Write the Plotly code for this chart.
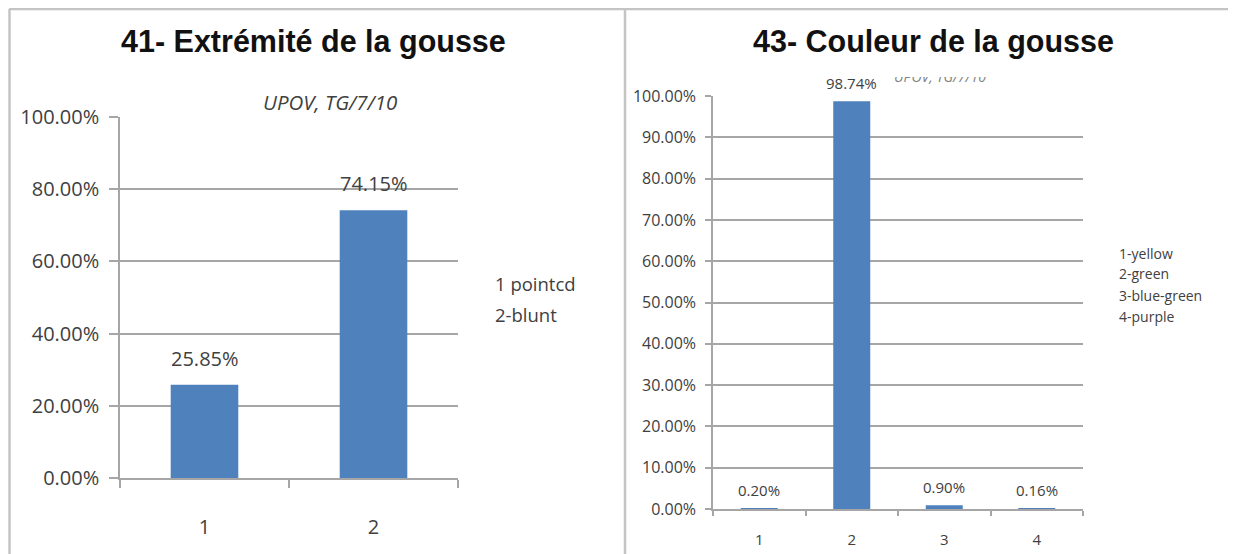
import plotly.graph_objects as go

W, H = 1236, 554

# ---- data ----
left_title = "41- Extrémité de la gousse"
left_categories = ["1", "2"]
left_values = [0.2585, 0.7415]
left_legend = ["1 pointcd", "2-blunt"]

right_title = "43- Couleur de la gousse"
right_categories = ["1", "2", "3", "4"]
right_values = [0.0020, 0.9874, 0.0090, 0.0016]
right_legend = ["1-yellow", "2-green", "3-blue-green", "4-purple"]

source_text = "UPOV, TG/7/10"

BAR = "#4F81BD"
GRID = "#a6a6a6"
TXT = "#404040"
FONT = "Open Sans"
OFF = 8  # page body margin


def fx(p):
    return (p - OFF) / W


def fy(p):
    return 1 - (p - OFF) / H


fig = go.Figure()
fig.add_trace(go.Bar(x=left_categories, y=left_values, marker_color=BAR,
                     xaxis="x", yaxis="y", showlegend=False, hoverinfo="skip"))
fig.add_trace(go.Bar(x=right_categories, y=right_values, marker_color=BAR,
                     xaxis="x2", yaxis="y2", showlegend=False, hoverinfo="skip"))
# partially hidden source text in the right panel (clipped by its own area)
fig.add_trace(go.Scatter(x=[0], y=[0.85], mode="text", text=[source_text],
                         textfont=dict(family=FONT, size=14, color="#7f7f7f", style="italic"),
                         textposition="middle center", cliponaxis=True,
                         xaxis="x3", yaxis="y3", showlegend=False, hoverinfo="skip"))

common_y = dict(range=[0, 1], tickformat=".2%", showgrid=True, gridcolor=GRID, gridwidth=1.5,
                zeroline=False, showline=True, linecolor=GRID, linewidth=1.5,
                ticks="outside", tickcolor=GRID, tickwidth=1.5, automargin=False)
common_x = dict(type="category", showgrid=False, zeroline=False, showline=True,
                linecolor=GRID, linewidth=1.5, ticks="outside", tickson="boundaries",
                tickcolor=GRID, tickwidth=1.5, automargin=False)

fig.update_layout(
    template="none",
    width=W, height=H, margin=dict(l=0, r=0, t=0, b=0, pad=0),
    paper_bgcolor="white", plot_bgcolor="white",
    bargap=0.6,
    xaxis=dict(domain=[fx(120), fx(458)], anchor="y", ticklen=8, ticklabelstandoff=30,
               tickfont=dict(family=FONT, size=20, color=TXT), **common_x),
    yaxis=dict(domain=[fy(478), fy(117)], anchor="x", dtick=0.2, ticklen=9,
               ticklabelstandoff=6,
               tickfont=dict(family=FONT, size=20, color=TXT), **common_y),
    xaxis2=dict(domain=[fx(713), fx(1083)], anchor="y2", ticklen=5, ticklabelstandoff=16,
                tickfont=dict(family=FONT, size=15, color=TXT), **common_x),
    yaxis2=dict(domain=[fy(509), fy(96)], anchor="x2", dtick=0.1, ticklen=6,
                ticklabelstandoff=6,
                tickfont=dict(family=FONT, size=16, color=TXT), **common_y),
    xaxis3=dict(domain=[fx(860), fx(1020)], anchor="y3", range=[-1, 1], visible=False),
    yaxis3=dict(domain=[fy(95), fy(77)], anchor="x3", range=[-1, 1], visible=False),
)

annotations = []


def paper_text(text, x, y, size, family=FONT, color=TXT, xanchor="center"):
    return dict(text=text, x=fx(x), y=fy(y), xref="paper", yref="paper",
                xanchor=xanchor, yanchor="middle", showarrow=False,
                font=dict(family=family, size=size, color=color))


# titles
annotations.append(paper_text(f"<b>{left_title}</b>", 313, 42, 30.5, "Liberation Sans", "#111111"))
annotations.append(paper_text(f"<b>{right_title}</b>", 933, 42, 30.5, "Liberation Sans", "#111111"))
# source text left
annotations.append(paper_text(f"<i>{source_text}</i>", 330, 102, 20.5))
# legends as text
for i, t in enumerate(left_legend):
    annotations.append(paper_text(t, 493, 283 + 31 * i, 18.5, xanchor="left"))
for i, t in enumerate(right_legend):
    annotations.append(paper_text(t, 1117, 253 + 21 * i, 14, xanchor="left"))
# data labels (category index positions)
for i, v in enumerate(left_values):
    annotations.append(dict(text=f"{v * 100:.2f}%", x=i, y=v, xref="x", yref="y",
                            xanchor="center", yanchor="bottom", yshift=11, showarrow=False,
                            font=dict(family=FONT, size=20, color=TXT)))
for i, v in enumerate(right_values):
    annotations.append(dict(text=f"{v * 100:.2f}%", x=i, y=v, xref="x2", yref="y2",
                            xanchor="center", yanchor="bottom", yshift=6, showarrow=False,
                            font=dict(family=FONT, size=15, color=TXT)))
fig.update_layout(annotations=annotations)

# panel frames
line = dict(color="#c4c4c4", width=2.5)
fig.add_shape(type="line", xref="paper", yref="paper", x0=fx(9), x1=1, y0=fy(9), y1=fy(9), line=line)
fig.add_shape(type="line", xref="paper", yref="paper", x0=fx(9.5), x1=fx(9.5), y0=fy(9), y1=0, line=line)
fig.add_shape(type="line", xref="paper", yref="paper", x0=fx(625), x1=fx(625), y0=fy(9), y1=0, line=line)

fig.write_html("out.html")
